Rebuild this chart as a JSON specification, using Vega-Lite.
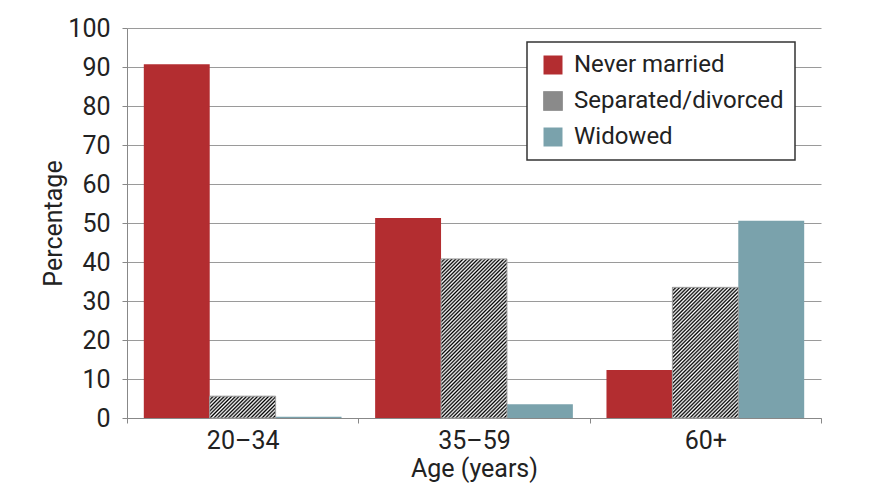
{
 "$schema": "https://vega.github.io/schema/vega-lite/v6.json",
 "width": 694,
 "height": 390,
 "autosize": {"type": "none"},
 "padding": {"left": 127, "top": 28, "right": 49, "bottom": 77},
 "background": "white",
 "config": {
  "font": "Roboto",
  "view": {"stroke": null},
  "axis": {"labelFontSize": 25, "titleFontSize": 25, "titleFontWeight": "normal", "labelColor": "#222", "titleColor": "#222", "domainColor": "#888", "tickColor": "#888", "tickSize": 5, "gridColor": "#9a9a9a"}
 },
 "data": {"values": [
  {"age": "20–34", "status": "Never married", "pct": 90.7},
  {"age": "20–34", "status": "Separated/divorced", "pct": 5.6},
  {"age": "20–34", "status": "Widowed", "pct": 0.3},
  {"age": "35–59", "status": "Never married", "pct": 51.3},
  {"age": "35–59", "status": "Separated/divorced", "pct": 40.8},
  {"age": "35–59", "status": "Widowed", "pct": 3.5},
  {"age": "60+", "status": "Never married", "pct": 12.3},
  {"age": "60+", "status": "Separated/divorced", "pct": 33.5},
  {"age": "60+", "status": "Widowed", "pct": 50.6}
 ]},
 "encoding": {
  "x": {"field": "age", "type": "nominal", "sort": ["20–34", "35–59", "60+"], "scale": {"paddingInner": 0, "paddingOuter": 0}, "title": "Age (years)", "axis": {"labelAngle": 0, "tickBand": "extent", "grid": false, "labelPadding": 5, "titlePadding": 3}},
  "xOffset": {"field": "status", "type": "nominal", "sort": ["Never married", "Separated/divorced", "Widowed"], "scale": {"paddingInner": 0, "paddingOuter": 0.255}},
  "y": {"field": "pct", "type": "quantitative", "scale": {"domain": [0, 100], "nice": false}, "title": "Percentage", "axis": {"values": [0, 10, 20, 30, 40, 50, 60, 70, 80, 90, 100], "labelPadding": 12, "titlePadding": 1, "grid": true}}
 },
 "layer": [
  {
   "mark": {"type": "bar"},
   "encoding": {
    "color": {"field": "status", "type": "nominal",
     "scale": {"domain": ["Never married", "Separated/divorced", "Widowed"], "range": ["#b32d30", "#8a8a8a", "#7aa2ac"]},
     "legend": {"title": null, "orient": "none", "legendX": 400, "legendY": 14, "symbolType": "square", "symbolSize": 361, "labelFontSize": 24, "labelLimit": 400, "labelOffset": 9, "rowPadding": 12, "padding": 11, "symbolOffset": 3, "strokeColor": "#333", "fillColor": "white", "labelColor": "#222",
      "encode": {
       "legend": {"update": {"strokeWidth": {"value": 1.5}}},
       "symbols": {"update": {
        "stroke": {"signal": "datum.value === 'Separated/divorced' ? '#999' : 'transparent'"},
        "strokeWidth": {"value": 1}
       }}
      }
     }
    }
   }
  },
  {
   "transform": [{"filter": "datum.age === '20–34' && datum.status === 'Separated/divorced'"}],
   "mark": {"type": "bar", "stroke": "#a0a0a0", "strokeWidth": 1, "fill": {"gradient": "linear", "x1": 0, "y1": 0, "x2": 3.086, "y2": 1.0227, "stops": [
    {"offset": 0, "color": "#000"}, {"offset": 0.008, "color": "#fff"}, {"offset": 0.016, "color": "#000"}, {"offset": 0.025, "color": "#fff"}, {"offset": 0.033, "color": "#000"}, {"offset": 0.041, "color": "#fff"}, {"offset": 0.049, "color": "#000"}, {"offset": 0.057, "color": "#fff"}, {"offset": 0.066, "color": "#000"}, {"offset": 0.074, "color": "#fff"},
    {"offset": 0.082, "color": "#000"}, {"offset": 0.09, "color": "#fff"}, {"offset": 0.098, "color": "#000"}, {"offset": 0.107, "color": "#fff"}, {"offset": 0.115, "color": "#000"}, {"offset": 0.123, "color": "#fff"}, {"offset": 0.131, "color": "#000"}, {"offset": 0.139, "color": "#fff"}, {"offset": 0.148, "color": "#000"}, {"offset": 0.156, "color": "#fff"},
    {"offset": 0.164, "color": "#000"}, {"offset": 0.172, "color": "#fff"}, {"offset": 0.18, "color": "#000"}, {"offset": 0.189, "color": "#fff"}, {"offset": 0.197, "color": "#000"}, {"offset": 0.205, "color": "#fff"}, {"offset": 0.213, "color": "#000"}, {"offset": 0.221, "color": "#fff"}, {"offset": 0.23, "color": "#000"}, {"offset": 0.238, "color": "#fff"},
    {"offset": 0.246, "color": "#000"}, {"offset": 0.254, "color": "#fff"}, {"offset": 0.262, "color": "#000"}, {"offset": 0.27, "color": "#fff"}, {"offset": 0.279, "color": "#000"}, {"offset": 0.287, "color": "#fff"}, {"offset": 0.295, "color": "#000"}, {"offset": 0.303, "color": "#fff"}, {"offset": 0.311, "color": "#000"}, {"offset": 0.32, "color": "#fff"},
    {"offset": 0.328, "color": "#000"}, {"offset": 0.336, "color": "#fff"}, {"offset": 0.344, "color": "#000"}, {"offset": 0.352, "color": "#fff"}, {"offset": 0.361, "color": "#000"}, {"offset": 0.369, "color": "#fff"}, {"offset": 0.377, "color": "#000"}, {"offset": 0.385, "color": "#fff"}, {"offset": 0.393, "color": "#000"}, {"offset": 0.402, "color": "#fff"}
   ]}}
  },
  {
   "transform": [{"filter": "datum.age === '35–59' && datum.status === 'Separated/divorced'"}],
   "mark": {"type": "bar", "stroke": "#a0a0a0", "strokeWidth": 1, "fill": {"gradient": "linear", "x1": 0, "y1": 0, "x2": 0.5015, "y2": 1.2107, "stops": [
    {"offset": 0, "color": "#000"}, {"offset": 0.008, "color": "#fff"}, {"offset": 0.016, "color": "#000"}, {"offset": 0.025, "color": "#fff"}, {"offset": 0.033, "color": "#000"}, {"offset": 0.041, "color": "#fff"}, {"offset": 0.049, "color": "#000"}, {"offset": 0.057, "color": "#fff"}, {"offset": 0.066, "color": "#000"}, {"offset": 0.074, "color": "#fff"},
    {"offset": 0.082, "color": "#000"}, {"offset": 0.09, "color": "#fff"}, {"offset": 0.098, "color": "#000"}, {"offset": 0.107, "color": "#fff"}, {"offset": 0.115, "color": "#000"}, {"offset": 0.123, "color": "#fff"}, {"offset": 0.131, "color": "#000"}, {"offset": 0.139, "color": "#fff"}, {"offset": 0.148, "color": "#000"}, {"offset": 0.156, "color": "#fff"},
    {"offset": 0.164, "color": "#000"}, {"offset": 0.172, "color": "#fff"}, {"offset": 0.18, "color": "#000"}, {"offset": 0.189, "color": "#fff"}, {"offset": 0.197, "color": "#000"}, {"offset": 0.205, "color": "#fff"}, {"offset": 0.213, "color": "#000"}, {"offset": 0.221, "color": "#fff"}, {"offset": 0.23, "color": "#000"}, {"offset": 0.238, "color": "#fff"},
    {"offset": 0.246, "color": "#000"}, {"offset": 0.254, "color": "#fff"}, {"offset": 0.262, "color": "#000"}, {"offset": 0.27, "color": "#fff"}, {"offset": 0.279, "color": "#000"}, {"offset": 0.287, "color": "#fff"}, {"offset": 0.295, "color": "#000"}, {"offset": 0.303, "color": "#fff"}, {"offset": 0.311, "color": "#000"}, {"offset": 0.32, "color": "#fff"},
    {"offset": 0.328, "color": "#000"}, {"offset": 0.336, "color": "#fff"}, {"offset": 0.344, "color": "#000"}, {"offset": 0.352, "color": "#fff"}, {"offset": 0.361, "color": "#000"}, {"offset": 0.369, "color": "#fff"}, {"offset": 0.377, "color": "#000"}, {"offset": 0.385, "color": "#fff"}, {"offset": 0.393, "color": "#000"}, {"offset": 0.402, "color": "#fff"},
    {"offset": 0.41, "color": "#000"}, {"offset": 0.418, "color": "#fff"}, {"offset": 0.426, "color": "#000"}, {"offset": 0.434, "color": "#fff"}, {"offset": 0.443, "color": "#000"}, {"offset": 0.451, "color": "#fff"}, {"offset": 0.459, "color": "#000"}, {"offset": 0.467, "color": "#fff"}, {"offset": 0.475, "color": "#000"}, {"offset": 0.484, "color": "#fff"},
    {"offset": 0.492, "color": "#000"}, {"offset": 0.5, "color": "#fff"}, {"offset": 0.508, "color": "#000"}, {"offset": 0.516, "color": "#fff"}, {"offset": 0.525, "color": "#000"}, {"offset": 0.533, "color": "#fff"}, {"offset": 0.541, "color": "#000"}, {"offset": 0.549, "color": "#fff"}, {"offset": 0.557, "color": "#000"}, {"offset": 0.566, "color": "#fff"},
    {"offset": 0.574, "color": "#000"}, {"offset": 0.582, "color": "#fff"}, {"offset": 0.59, "color": "#000"}, {"offset": 0.598, "color": "#fff"}, {"offset": 0.607, "color": "#000"}, {"offset": 0.615, "color": "#fff"}, {"offset": 0.623, "color": "#000"}, {"offset": 0.631, "color": "#fff"}, {"offset": 0.639, "color": "#000"}, {"offset": 0.648, "color": "#fff"},
    {"offset": 0.656, "color": "#000"}, {"offset": 0.664, "color": "#fff"}, {"offset": 0.672, "color": "#000"}, {"offset": 0.68, "color": "#fff"}, {"offset": 0.689, "color": "#000"}, {"offset": 0.697, "color": "#fff"}, {"offset": 0.705, "color": "#000"}, {"offset": 0.713, "color": "#fff"}, {"offset": 0.721, "color": "#000"}, {"offset": 0.73, "color": "#fff"},
    {"offset": 0.738, "color": "#000"}, {"offset": 0.746, "color": "#fff"}, {"offset": 0.754, "color": "#000"}, {"offset": 0.762, "color": "#fff"}, {"offset": 0.77, "color": "#000"}, {"offset": 0.779, "color": "#fff"}, {"offset": 0.787, "color": "#000"}, {"offset": 0.795, "color": "#fff"}, {"offset": 0.803, "color": "#000"}, {"offset": 0.811, "color": "#fff"},
    {"offset": 0.82, "color": "#000"}, {"offset": 0.828, "color": "#fff"}, {"offset": 0.836, "color": "#000"}, {"offset": 0.844, "color": "#fff"}, {"offset": 0.852, "color": "#000"}, {"offset": 0.861, "color": "#fff"}, {"offset": 0.869, "color": "#000"}, {"offset": 0.877, "color": "#fff"}, {"offset": 0.885, "color": "#000"}, {"offset": 0.893, "color": "#fff"},
    {"offset": 0.902, "color": "#000"}, {"offset": 0.91, "color": "#fff"}, {"offset": 0.918, "color": "#000"}, {"offset": 0.926, "color": "#fff"}, {"offset": 0.934, "color": "#000"}, {"offset": 0.943, "color": "#fff"}, {"offset": 0.951, "color": "#000"}, {"offset": 0.959, "color": "#fff"}, {"offset": 0.967, "color": "#000"}, {"offset": 0.975, "color": "#fff"},
    {"offset": 0.984, "color": "#000"}, {"offset": 0.992, "color": "#fff"}, {"offset": 1, "color": "#000"}
   ]}}
  },
  {
   "transform": [{"filter": "datum.age === '60+' && datum.status === 'Separated/divorced'"}],
   "mark": {"type": "bar", "stroke": "#a0a0a0", "strokeWidth": 1, "fill": {"gradient": "linear", "x1": 0, "y1": 0, "x2": 0.6947, "y2": 1.3771, "stops": [
    {"offset": 0, "color": "#000"}, {"offset": 0.008, "color": "#fff"}, {"offset": 0.016, "color": "#000"}, {"offset": 0.025, "color": "#fff"}, {"offset": 0.033, "color": "#000"}, {"offset": 0.041, "color": "#fff"}, {"offset": 0.049, "color": "#000"}, {"offset": 0.057, "color": "#fff"}, {"offset": 0.066, "color": "#000"}, {"offset": 0.074, "color": "#fff"},
    {"offset": 0.082, "color": "#000"}, {"offset": 0.09, "color": "#fff"}, {"offset": 0.098, "color": "#000"}, {"offset": 0.107, "color": "#fff"}, {"offset": 0.115, "color": "#000"}, {"offset": 0.123, "color": "#fff"}, {"offset": 0.131, "color": "#000"}, {"offset": 0.139, "color": "#fff"}, {"offset": 0.148, "color": "#000"}, {"offset": 0.156, "color": "#fff"},
    {"offset": 0.164, "color": "#000"}, {"offset": 0.172, "color": "#fff"}, {"offset": 0.18, "color": "#000"}, {"offset": 0.189, "color": "#fff"}, {"offset": 0.197, "color": "#000"}, {"offset": 0.205, "color": "#fff"}, {"offset": 0.213, "color": "#000"}, {"offset": 0.221, "color": "#fff"}, {"offset": 0.23, "color": "#000"}, {"offset": 0.238, "color": "#fff"},
    {"offset": 0.246, "color": "#000"}, {"offset": 0.254, "color": "#fff"}, {"offset": 0.262, "color": "#000"}, {"offset": 0.27, "color": "#fff"}, {"offset": 0.279, "color": "#000"}, {"offset": 0.287, "color": "#fff"}, {"offset": 0.295, "color": "#000"}, {"offset": 0.303, "color": "#fff"}, {"offset": 0.311, "color": "#000"}, {"offset": 0.32, "color": "#fff"},
    {"offset": 0.328, "color": "#000"}, {"offset": 0.336, "color": "#fff"}, {"offset": 0.344, "color": "#000"}, {"offset": 0.352, "color": "#fff"}, {"offset": 0.361, "color": "#000"}, {"offset": 0.369, "color": "#fff"}, {"offset": 0.377, "color": "#000"}, {"offset": 0.385, "color": "#fff"}, {"offset": 0.393, "color": "#000"}, {"offset": 0.402, "color": "#fff"},
    {"offset": 0.41, "color": "#000"}, {"offset": 0.418, "color": "#fff"}, {"offset": 0.426, "color": "#000"}, {"offset": 0.434, "color": "#fff"}, {"offset": 0.443, "color": "#000"}, {"offset": 0.451, "color": "#fff"}, {"offset": 0.459, "color": "#000"}, {"offset": 0.467, "color": "#fff"}, {"offset": 0.475, "color": "#000"}, {"offset": 0.484, "color": "#fff"},
    {"offset": 0.492, "color": "#000"}, {"offset": 0.5, "color": "#fff"}, {"offset": 0.508, "color": "#000"}, {"offset": 0.516, "color": "#fff"}, {"offset": 0.525, "color": "#000"}, {"offset": 0.533, "color": "#fff"}, {"offset": 0.541, "color": "#000"}, {"offset": 0.549, "color": "#fff"}, {"offset": 0.557, "color": "#000"}, {"offset": 0.566, "color": "#fff"},
    {"offset": 0.574, "color": "#000"}, {"offset": 0.582, "color": "#fff"}, {"offset": 0.59, "color": "#000"}, {"offset": 0.598, "color": "#fff"}, {"offset": 0.607, "color": "#000"}, {"offset": 0.615, "color": "#fff"}, {"offset": 0.623, "color": "#000"}, {"offset": 0.631, "color": "#fff"}, {"offset": 0.639, "color": "#000"}, {"offset": 0.648, "color": "#fff"},
    {"offset": 0.656, "color": "#000"}, {"offset": 0.664, "color": "#fff"}, {"offset": 0.672, "color": "#000"}, {"offset": 0.68, "color": "#fff"}, {"offset": 0.689, "color": "#000"}, {"offset": 0.697, "color": "#fff"}, {"offset": 0.705, "color": "#000"}, {"offset": 0.713, "color": "#fff"}, {"offset": 0.721, "color": "#000"}, {"offset": 0.73, "color": "#fff"},
    {"offset": 0.738, "color": "#000"}, {"offset": 0.746, "color": "#fff"}, {"offset": 0.754, "color": "#000"}, {"offset": 0.762, "color": "#fff"}, {"offset": 0.77, "color": "#000"}, {"offset": 0.779, "color": "#fff"}, {"offset": 0.787, "color": "#000"}, {"offset": 0.795, "color": "#fff"}, {"offset": 0.803, "color": "#000"}, {"offset": 0.811, "color": "#fff"},
    {"offset": 0.82, "color": "#000"}, {"offset": 0.828, "color": "#fff"}, {"offset": 0.836, "color": "#000"}, {"offset": 0.844, "color": "#fff"}, {"offset": 0.852, "color": "#000"}, {"offset": 0.861, "color": "#fff"}, {"offset": 0.869, "color": "#000"}, {"offset": 0.877, "color": "#fff"}
   ]}}
  }
 ]
}
